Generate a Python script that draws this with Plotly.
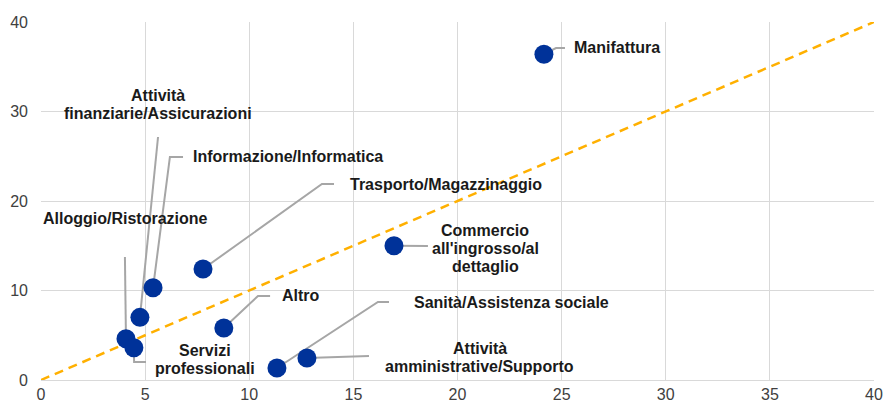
import plotly.graph_objects as go

# Sector values (x: horizontal measure, y: vertical measure)
sectors = [
    "Manifattura",
    "Commercio<br>all'ingrosso/al<br>dettaglio",
    "Trasporto/Magazzinaggio",
    "Informazione/Informatica",
    "Attività<br>finanziarie/Assicurazioni",
    "Alloggio/Ristorazione",
    "Servizi<br>professionali",
    "Altro",
    "Sanità/Assistenza sociale",
    "Attività<br>amministrative/Supporto",
]
x_values = [24.15, 16.95, 7.78, 5.38, 4.75, 4.08, 4.46, 8.78, 11.33, 12.77]
y_values = [36.4, 15.0, 12.4, 10.3, 7.0, 4.6, 3.6, 5.8, 1.34, 2.46]

x_ticks = [0, 5, 10, 15, 20, 25, 30, 35, 40]
y_ticks = [0, 10, 20, 30, 40]

# Label placement: (text x, text y, anchor, leader path after the point)
label_layout = [
    (25.5, 37.1, "left", [(24.73, 37.09), (25.16, 37.09)]),
    (21.33, 14.72, "center", [(18.58, 14.97)]),
    (14.74, 21.9, "left", [(13.49, 21.9), (14.07, 21.9)]),
    (7.2, 24.92, "left", [(6.19, 24.92), (6.82, 24.92)]),
    (5.62, 30.78, "center", [(5.62, 27.15)]),
    (0.0, 17.99, "left", [(4.03, 13.74)]),
    (7.88, 2.29, "center", [(4.47, 2.0), (5.04, 2.0)]),
    (11.48, 9.39, "left", [(10.42, 9.39), (11.0, 9.39)]),
    (17.82, 8.62, "left", [(16.18, 8.72), (16.71, 8.72)]),
    (21.08, 2.51, "center", [(15.75, 2.68)]),
]
LINE_GAP = 18  # px between stacked label lines

fig = go.Figure()

# 45-degree reference line
fig.add_trace(go.Scatter(
    x=[0, 40], y=[0, 40], mode="lines",
    line=dict(color="#FFB000", width=2.5, dash="9px,6px"),
    hoverinfo="skip", showlegend=False,
))

# Leader lines from each point to its label
for xv, yv, (_, _, _, path) in zip(x_values, y_values, label_layout):
    px = [xv] + [p[0] for p in path]
    py = [yv] + [p[1] for p in path]
    fig.add_trace(go.Scatter(
        x=px, y=py, mode="lines",
        line=dict(color="#A6A6A6", width=2),
        hoverinfo="skip", showlegend=False,
    ))

# Sector points
fig.add_trace(go.Scatter(
    x=x_values, y=y_values, mode="markers",
    marker=dict(color="#003299", size=19, line=dict(width=0)),
    text=sectors, showlegend=False, cliponaxis=False,
))

label_font = dict(family="Liberation Sans, Arial, sans-serif", size=16, color="#1A1A1A")
for name, (tx, ty, anchor, _) in zip(sectors, label_layout):
    lines = name.split("<br>")
    mid = (len(lines) - 1) / 2
    for i, line in enumerate(lines):
        fig.add_annotation(
            x=tx, y=ty, text="<b>" + line + "</b>", showarrow=False,
            xanchor=anchor, yanchor="middle", align="center",
            yshift=(mid - i) * LINE_GAP, font=label_font,
        )

axis_font = dict(family="Liberation Sans, Arial, sans-serif", size=16, color="#404040")
fig.update_xaxes(
    range=[0, 40], tickvals=x_ticks, showgrid=True, gridcolor="#D9D9D9", gridwidth=1,
    zeroline=False, showline=True, linecolor="#D9D9D9", ticks="", tickfont=axis_font,
    ticklabelstandoff=0, automargin=False,
)
fig.update_yaxes(
    range=[0, 40], tickvals=y_ticks, showgrid=True, gridcolor="#D9D9D9", gridwidth=1,
    zeroline=False, showline=False, ticks="", tickfont=axis_font, ticklabelstandoff=12,
    automargin=False,
)
fig.update_layout(
    width=883, height=403,
    margin=dict(l=41, r=9, t=22, b=23),
    paper_bgcolor="white", plot_bgcolor="white",
    showlegend=False,
)

fig.write_html("out.html")
